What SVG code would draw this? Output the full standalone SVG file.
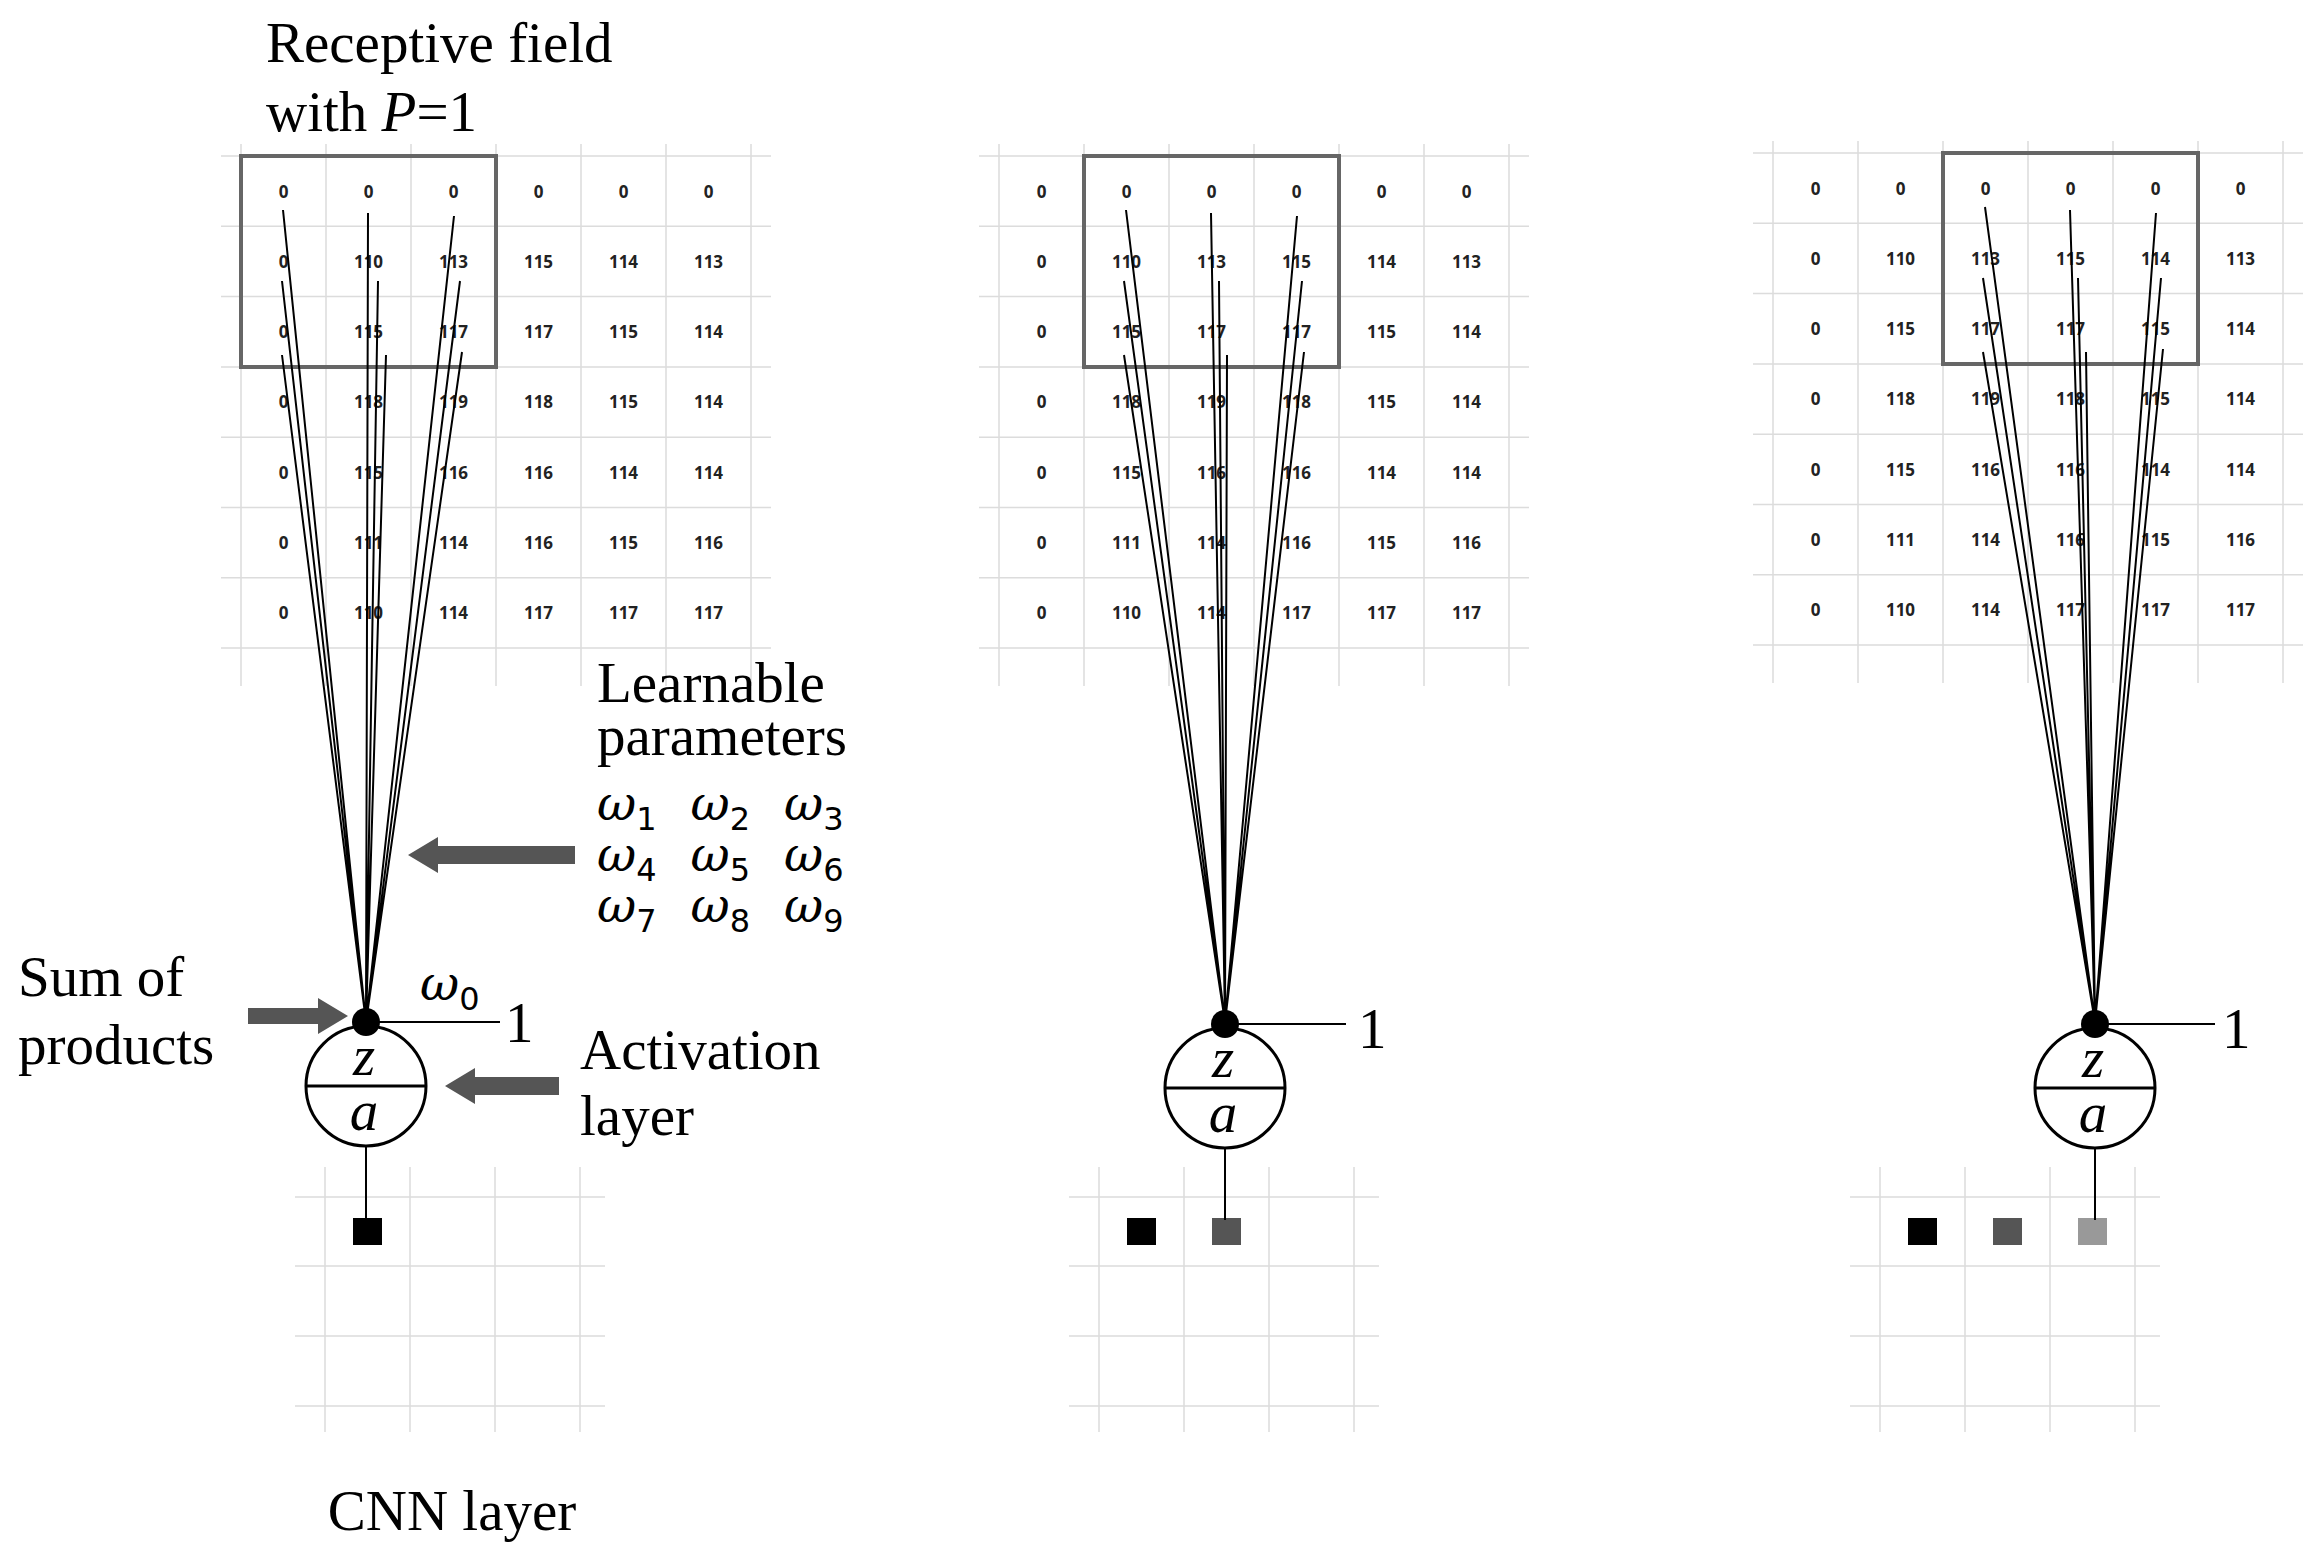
<svg xmlns="http://www.w3.org/2000/svg" width="2320" height="1568" viewBox="0 0 2320 1568">
<style>
.g{stroke:#dcdcdc;stroke-width:1.5;fill:none}
.n{font-family:"Open Sans","DejaVu Sans",sans-serif;font-weight:bold;font-size:17px;fill:#222;text-anchor:middle;dominant-baseline:central}
.box{fill:none;stroke:#666;stroke-width:4}
.w{stroke:#000;stroke-width:2;fill:none}
.t{font-family:"Liberation Serif","Times New Roman",serif;font-size:57px;fill:#000}
.m{font-family:"DejaVu Serif",serif;font-style:italic;font-size:48px;fill:#000}
.s{font-family:"DejaVu Sans",sans-serif;font-size:32px;font-style:normal}
.arr{fill:#555}
</style>
<defs>
<g id="gridlines">
<path class="g" d="M0 -12V530M85 -12V530M170 -12V530M255 -12V530M340 -12V530M425 -12V530M510 -12V530M-20 0H530M-20 70.3H530M-20 140.6H530M-20 210.9H530M-20 281.2H530M-20 351.5H530M-20 421.8H530M-20 492.1H530"/>
</g>
<g id="outgrid">
<path class="g" d="M0 -30V235M85 -30V235M170 -30V235M255 -30V235M-30 0H280M-30 69H280M-30 139H280M-30 209H280"/>
</g>
</defs>

<g id="grid1" transform="translate(241,156)">
<use href="#gridlines"/>
<g>
<text class="n" x="42.5" y="35">0</text><text class="n" x="127.5" y="35">0</text><text class="n" x="212.5" y="35">0</text><text class="n" x="297.5" y="35">0</text><text class="n" x="382.5" y="35">0</text><text class="n" x="467.5" y="35">0</text>
<text class="n" x="42.5" y="105.3">0</text><text class="n" x="127.5" y="105.3">110</text><text class="n" x="212.5" y="105.3">113</text><text class="n" x="297.5" y="105.3">115</text><text class="n" x="382.5" y="105.3">114</text><text class="n" x="467.5" y="105.3">113</text>
<text class="n" x="42.5" y="175.6">0</text><text class="n" x="127.5" y="175.6">115</text><text class="n" x="212.5" y="175.6">117</text><text class="n" x="297.5" y="175.6">117</text><text class="n" x="382.5" y="175.6">115</text><text class="n" x="467.5" y="175.6">114</text>
<text class="n" x="42.5" y="245.9">0</text><text class="n" x="127.5" y="245.9">118</text><text class="n" x="212.5" y="245.9">119</text><text class="n" x="297.5" y="245.9">118</text><text class="n" x="382.5" y="245.9">115</text><text class="n" x="467.5" y="245.9">114</text>
<text class="n" x="42.5" y="316.2">0</text><text class="n" x="127.5" y="316.2">115</text><text class="n" x="212.5" y="316.2">116</text><text class="n" x="297.5" y="316.2">116</text><text class="n" x="382.5" y="316.2">114</text><text class="n" x="467.5" y="316.2">114</text>
<text class="n" x="42.5" y="386.5">0</text><text class="n" x="127.5" y="386.5">111</text><text class="n" x="212.5" y="386.5">114</text><text class="n" x="297.5" y="386.5">116</text><text class="n" x="382.5" y="386.5">115</text><text class="n" x="467.5" y="386.5">116</text>
<text class="n" x="42.5" y="456.8">0</text><text class="n" x="127.5" y="456.8">110</text><text class="n" x="212.5" y="456.8">114</text><text class="n" x="297.5" y="456.8">117</text><text class="n" x="382.5" y="456.8">117</text><text class="n" x="467.5" y="456.8">117</text>
</g>
<rect class="box" x="0" y="0" width="255" height="211"/>
</g>

<g id="grid2" transform="translate(999,156)">
<use href="#gridlines"/>
<g>
<text class="n" x="42.5" y="35">0</text><text class="n" x="127.5" y="35">0</text><text class="n" x="212.5" y="35">0</text><text class="n" x="297.5" y="35">0</text><text class="n" x="382.5" y="35">0</text><text class="n" x="467.5" y="35">0</text>
<text class="n" x="42.5" y="105.3">0</text><text class="n" x="127.5" y="105.3">110</text><text class="n" x="212.5" y="105.3">113</text><text class="n" x="297.5" y="105.3">115</text><text class="n" x="382.5" y="105.3">114</text><text class="n" x="467.5" y="105.3">113</text>
<text class="n" x="42.5" y="175.6">0</text><text class="n" x="127.5" y="175.6">115</text><text class="n" x="212.5" y="175.6">117</text><text class="n" x="297.5" y="175.6">117</text><text class="n" x="382.5" y="175.6">115</text><text class="n" x="467.5" y="175.6">114</text>
<text class="n" x="42.5" y="245.9">0</text><text class="n" x="127.5" y="245.9">118</text><text class="n" x="212.5" y="245.9">119</text><text class="n" x="297.5" y="245.9">118</text><text class="n" x="382.5" y="245.9">115</text><text class="n" x="467.5" y="245.9">114</text>
<text class="n" x="42.5" y="316.2">0</text><text class="n" x="127.5" y="316.2">115</text><text class="n" x="212.5" y="316.2">116</text><text class="n" x="297.5" y="316.2">116</text><text class="n" x="382.5" y="316.2">114</text><text class="n" x="467.5" y="316.2">114</text>
<text class="n" x="42.5" y="386.5">0</text><text class="n" x="127.5" y="386.5">111</text><text class="n" x="212.5" y="386.5">114</text><text class="n" x="297.5" y="386.5">116</text><text class="n" x="382.5" y="386.5">115</text><text class="n" x="467.5" y="386.5">116</text>
<text class="n" x="42.5" y="456.8">0</text><text class="n" x="127.5" y="456.8">110</text><text class="n" x="212.5" y="456.8">114</text><text class="n" x="297.5" y="456.8">117</text><text class="n" x="382.5" y="456.8">117</text><text class="n" x="467.5" y="456.8">117</text>
</g>
<rect class="box" x="85" y="0" width="255" height="211"/>
</g>

<g id="grid3" transform="translate(1773,153)">
<use href="#gridlines"/>
<g>
<text class="n" x="42.5" y="35">0</text><text class="n" x="127.5" y="35">0</text><text class="n" x="212.5" y="35">0</text><text class="n" x="297.5" y="35">0</text><text class="n" x="382.5" y="35">0</text><text class="n" x="467.5" y="35">0</text>
<text class="n" x="42.5" y="105.3">0</text><text class="n" x="127.5" y="105.3">110</text><text class="n" x="212.5" y="105.3">113</text><text class="n" x="297.5" y="105.3">115</text><text class="n" x="382.5" y="105.3">114</text><text class="n" x="467.5" y="105.3">113</text>
<text class="n" x="42.5" y="175.6">0</text><text class="n" x="127.5" y="175.6">115</text><text class="n" x="212.5" y="175.6">117</text><text class="n" x="297.5" y="175.6">117</text><text class="n" x="382.5" y="175.6">115</text><text class="n" x="467.5" y="175.6">114</text>
<text class="n" x="42.5" y="245.9">0</text><text class="n" x="127.5" y="245.9">118</text><text class="n" x="212.5" y="245.9">119</text><text class="n" x="297.5" y="245.9">118</text><text class="n" x="382.5" y="245.9">115</text><text class="n" x="467.5" y="245.9">114</text>
<text class="n" x="42.5" y="316.2">0</text><text class="n" x="127.5" y="316.2">115</text><text class="n" x="212.5" y="316.2">116</text><text class="n" x="297.5" y="316.2">116</text><text class="n" x="382.5" y="316.2">114</text><text class="n" x="467.5" y="316.2">114</text>
<text class="n" x="42.5" y="386.5">0</text><text class="n" x="127.5" y="386.5">111</text><text class="n" x="212.5" y="386.5">114</text><text class="n" x="297.5" y="386.5">116</text><text class="n" x="382.5" y="386.5">115</text><text class="n" x="467.5" y="386.5">116</text>
<text class="n" x="42.5" y="456.8">0</text><text class="n" x="127.5" y="456.8">110</text><text class="n" x="212.5" y="456.8">114</text><text class="n" x="297.5" y="456.8">117</text><text class="n" x="382.5" y="456.8">117</text><text class="n" x="467.5" y="456.8">117</text>
</g>
<rect class="box" x="170" y="0" width="255" height="211"/>
</g>

<g id="out1" transform="translate(325,1197)">
<use href="#outgrid"/>
<rect x="28" y="21" width="29" height="27" fill="#000"/>
</g>
<g id="out2" transform="translate(1099,1197)">
<use href="#outgrid"/>
<rect x="28" y="21" width="29" height="27" fill="#000"/>
<rect x="113" y="21" width="29" height="27" fill="#555"/>
</g>
<g id="out3" transform="translate(1880,1197)">
<use href="#outgrid"/>
<rect x="28" y="21" width="29" height="27" fill="#000"/>
<rect x="113" y="21" width="29" height="27" fill="#555"/>
<rect x="198" y="21" width="29" height="27" fill="#999"/>
</g>

<g id="connectors">
<path class="w" d="M366 1022L283 210M366 1022L368 213M366 1022L454 216M366 1022L282 281M366 1022L378 281M366 1022L460 281M366 1022L282 355M366 1022L386 355M366 1022L462 352"/>
<path class="w" d="M1225 1022L1126 210M1225 1022L1211 213M1225 1022L1297 216M1225 1022L1124 281M1225 1022L1219 281M1225 1022L1302 281M1225 1022L1124 355M1225 1022L1227 355M1225 1022L1304 352"/>
<path class="w" d="M2095 1022L1985 207M2095 1022L2070 210M2095 1022L2156 213M2095 1022L1983 278M2095 1022L2078 278M2095 1022L2161 278M2095 1022L1983 352M2095 1022L2086 352M2095 1022L2163 349"/>
<path class="w" d="M366 1022H500M1225 1024H1346M2095 1024H2215"/>
<path class="w" d="M366 1146V1220M1225 1148V1220M2095 1148V1220"/>
</g>

<g id="node1">
<circle cx="366" cy="1086" r="60" fill="#fff" stroke="#000" stroke-width="3"/>
<line x1="306" y1="1086" x2="426" y2="1086" stroke="#000" stroke-width="3"/>
<circle cx="366" cy="1022" r="14" fill="#000"/>
<text class="t" x="364" y="1075" text-anchor="middle" font-style="italic" font-size="48">z</text>
<text class="t" x="364" y="1130" text-anchor="middle" font-style="italic" font-size="52">a</text>
<text class="t" x="505" y="1042">1</text>
</g>
<g id="node2">
<circle cx="1225" cy="1088" r="60" fill="#fff" stroke="#000" stroke-width="3"/>
<line x1="1165" y1="1088" x2="1285" y2="1088" stroke="#000" stroke-width="3"/>
<circle cx="1225" cy="1024" r="14" fill="#000"/>
<text class="t" x="1223" y="1077" text-anchor="middle" font-style="italic" font-size="48">z</text>
<text class="t" x="1223" y="1132" text-anchor="middle" font-style="italic" font-size="52">a</text>
<text class="t" x="1358" y="1048">1</text>
</g>
<g id="node3">
<circle cx="2095" cy="1088" r="60" fill="#fff" stroke="#000" stroke-width="3"/>
<line x1="2035" y1="1088" x2="2155" y2="1088" stroke="#000" stroke-width="3"/>
<circle cx="2095" cy="1024" r="14" fill="#000"/>
<text class="t" x="2093" y="1077" text-anchor="middle" font-style="italic" font-size="48">z</text>
<text class="t" x="2093" y="1132" text-anchor="middle" font-style="italic" font-size="52">a</text>
<text class="t" x="2222" y="1048">1</text>
</g>

<g id="labels">
<text class="t" x="266" y="62" font-size="60">Receptive field</text>
<text class="t" x="266" y="131" font-size="60">with <tspan font-style="italic">P</tspan>=1</text>
<text class="t" x="597" y="702" font-size="60">Learnable</text>
<text class="t" x="597" y="755" font-size="60">parameters</text>
<text class="m" x="597" y="820">ω<tspan class="s" dy="10">1</tspan><tspan dy="-10" dx="34">ω</tspan><tspan class="s" dy="10">2</tspan><tspan dy="-10" dx="34">ω</tspan><tspan class="s" dy="10">3</tspan></text>
<text class="m" x="597" y="871">ω<tspan class="s" dy="10">4</tspan><tspan dy="-10" dx="34">ω</tspan><tspan class="s" dy="10">5</tspan><tspan dy="-10" dx="34">ω</tspan><tspan class="s" dy="10">6</tspan></text>
<text class="m" x="597" y="922">ω<tspan class="s" dy="10">7</tspan><tspan dy="-10" dx="34">ω</tspan><tspan class="s" dy="10">8</tspan><tspan dy="-10" dx="34">ω</tspan><tspan class="s" dy="10">9</tspan></text>
<text class="m" x="420" y="1000">ω<tspan class="s" dy="10">0</tspan></text>
<text class="t" x="18" y="996" font-size="60">Sum of</text>
<text class="t" x="18" y="1064" font-size="60">products</text>
<text class="t" x="580" y="1069" font-size="60">Activation</text>
<text class="t" x="580" y="1135" font-size="60">layer</text>
<text class="t" x="452" y="1530" text-anchor="middle" font-size="60">CNN layer</text>
<polygon class="arr" points="575,846 438,846 438,837 408,855 438,873 438,864 575,864"/>
<polygon class="arr" points="248,1008 318,1008 318,998 348,1016 318,1034 318,1024 248,1024"/>
<polygon class="arr" points="559,1077 475,1077 475,1068 445,1086 475,1104 475,1095 559,1095"/>
</g>
</svg>
